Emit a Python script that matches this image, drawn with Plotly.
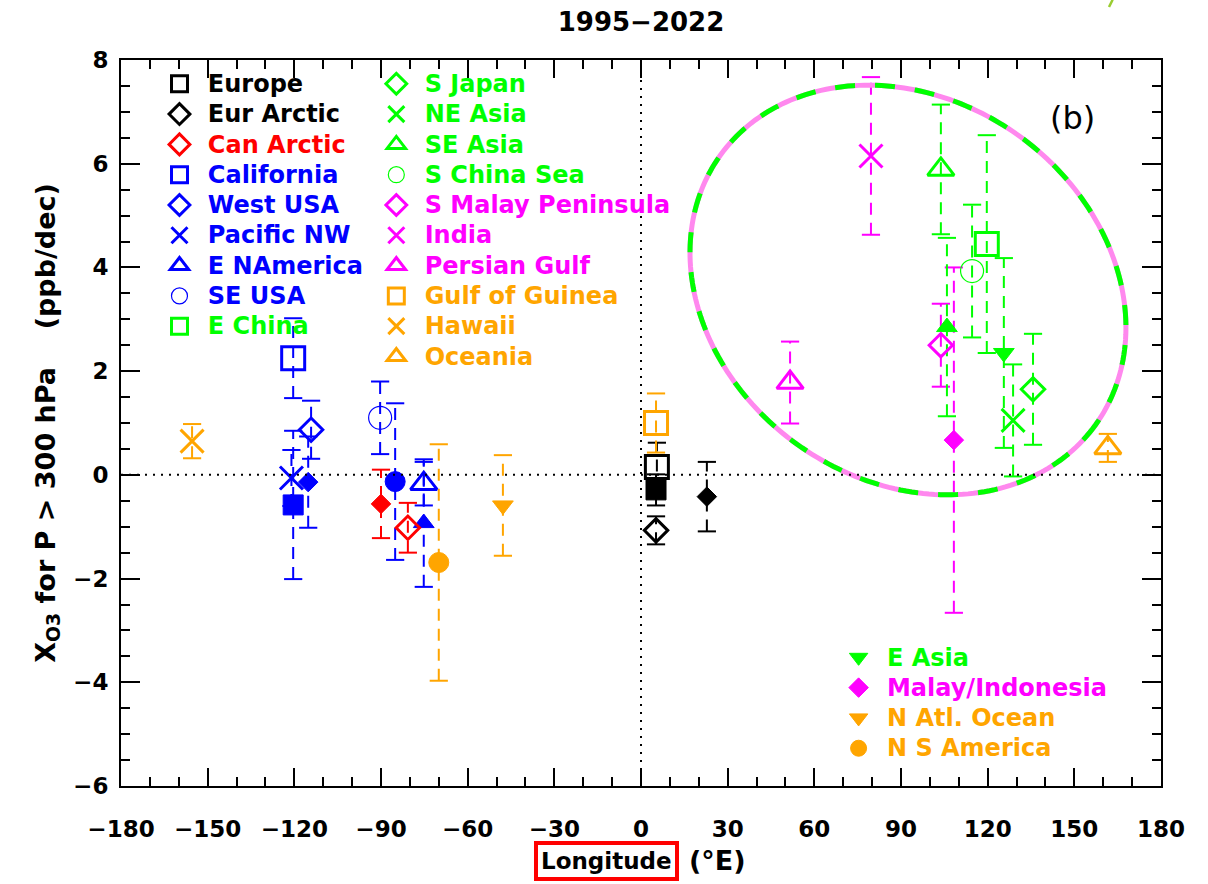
import numpy as np
import plotly.graph_objects as go

# ---------------- data: open-symbol regions (legend column 1) ----------------
col1_names = ["Europe", "Eur Arctic", "Can Arctic", "California", "West USA",
              "Pacific NW", "E NAmerica", "SE USA", "E China"]
col1_colors = ["black", "black", "#FF0000", "#0000FF", "#0000FF",
               "#0000FF", "#0000FF", "#0000FF", "#00FF00"]
col1_symbols = ["square-open", "diamond-open", "diamond-open", "square-open",
                "diamond-open", "x-thin-open", "triangle-up-open", "circle-open",
                "square-open"]
col1_lon = [5.5, 5.2, -80.7, -120.4, -114.2, -121.0, -75.2, -90.3, 119.7]
col1_val = [0.15, -1.07, -1.02, 2.25, 0.87, -0.06, -0.17, 1.10, 4.45]
col1_err = [0.47, 0.27, 0.48, 0.77, 0.56, 0.54, 0.42, 0.70, 2.10]

# ---------------- data: open-symbol regions (legend column 2) ----------------
col2_names = ["S Japan", "NE Asia", "SE Asia", "S China Sea", "S Malay Peninsula",
              "India", "Persian Gulf", "Gulf of Guinea", "Hawaii", "Oceania"]
col2_colors = ["#00FF00", "#00FF00", "#00FF00", "#00FF00", "#FF00FF",
               "#FF00FF", "#FF00FF", "#FFA500", "#FFA500", "#FFA500"]
col2_symbols = ["diamond-open", "x-thin-open", "triangle-up-open", "circle-open",
                "diamond-open", "x-thin-open", "triangle-up-open", "square-open",
                "x-thin-open", "triangle-up-open"]
col2_lon = [135.7, 128.8, 103.8, 114.6, 103.8, 79.6, 51.6, 5.2, -155.4, 161.6]
col2_val = [1.65, 1.05, 5.89, 3.93, 2.50, 6.15, 1.78, 1.00, 0.65, 0.52]
col2_err = [1.07, 1.08, 1.25, 1.28, 0.80, 1.52, 0.79, 0.57, 0.33, 0.27]

# ---------------- data: filled-symbol regions (lower-right legend) ----------------
col3_names = ["E Asia", "Malay/Indonesia", "N Atl. Ocean", "N S America"]
col3_colors = ["#00FF00", "#FF00FF", "#FFA500", "#FFA500"]
col3_symbols = ["triangle-down", "diamond", "triangle-down", "circle"]
col3_lon = [125.6, 108.3, -47.8, -70.0]
col3_val = [2.35, 0.67, -0.59, -1.69]
col3_err = [1.83, 3.33, 0.97, 2.28]

# ---------------- data: filled counterparts (no legend entry) ----------------
fill_colors = ["black", "black", "#FF0000", "#0000FF", "#0000FF",
               "#0000FF", "#0000FF", "#00FF00"]
fill_symbols = ["square", "diamond", "diamond", "square", "diamond",
                "circle", "triangle-up", "triangle-up"]
fill_lon = [5.2, 22.8, -90.0, -120.4, -115.2, -85.1, -75.2, 105.9]
fill_val = [-0.29, -0.42, -0.56, -0.58, -0.14, -0.13, -0.93, 2.85]
fill_err = [0.30, 0.67, 0.66, 1.43, 0.88, 1.51, 1.23, 1.72]

# axis ticks
x_ticks = list(range(-180, 181, 30))
x_ticktext = [("\u2212" + str(abs(v))) if v < 0 else str(v) for v in x_ticks]
y_ticks = list(range(-6, 9, 2))
y_ticktext = [("\u2212" + str(abs(v))) if v < 0 else str(v) for v in y_ticks]

# ---------------- style ----------------
FONT = "DejaVu Sans"
OPEN_SIZE = {"square-open": 23, "diamond-open": 18, "triangle-up-open": 23,
             "x-thin-open": 23, "circle-open": 23}
FILL_SIZE = {"square": 20, "diamond": 15, "triangle-up": 18,
             "triangle-down": 18, "circle": 20}
ERR_DASH = "12px,8px"

W, H = 1208, 884
ML, MR, MT, MB = 121, 47, 60, 98
PW, PH = W - ML - MR, H - MT - MB

fig = go.Figure()


def add_errbar(lon, val, err, color):
    fig.add_trace(go.Scatter(
        x=[lon, lon], y=[val - err, val + err], mode="lines",
        line=dict(color=color, width=2, dash=ERR_DASH),
        showlegend=False, hoverinfo="skip"))
    fig.add_trace(go.Scatter(
        x=[lon, lon], y=[val - err, val + err], mode="markers",
        marker=dict(symbol="line-ew-open", size=13, color=color,
                    line=dict(color=color, width=2)),
        showlegend=False, hoverinfo="skip"))


# error bars underneath all symbols
for lons, vals, errs, cols in [(col1_lon, col1_val, col1_err, col1_colors),
                               (col2_lon, col2_val, col2_err, col2_colors),
                               (col3_lon, col3_val, col3_err, col3_colors),
                               (fill_lon, fill_val, fill_err, fill_colors)]:
    for lo, va, er, c in zip(lons, vals, errs, cols):
        add_errbar(lo, va, er, c)

# filled symbols without legend entries
for lo, va, c, s in zip(fill_lon, fill_val, fill_colors, fill_symbols):
    fig.add_trace(go.Scatter(
        x=[lo], y=[va], mode="markers", showlegend=False,
        marker=dict(symbol=s, size=FILL_SIZE[s], color=c,
                    line=dict(color=c, width=1))))


def legend_label(text, color, size):
    return (f'<span style="color:{color};font-size:{size}px">'
            f'&#160;{text}</span>')


# open-symbol regions
for names, lons, vals, cols, syms, leg in [
        (col1_names, col1_lon, col1_val, col1_colors, col1_symbols, "legend"),
        (col2_names, col2_lon, col2_val, col2_colors, col2_symbols, "legend2")]:
    for n, lo, va, c, s in zip(names, lons, vals, cols, syms):
        lw = 1.2 if s == "circle-open" else 3
        fig.add_trace(go.Scatter(
            x=[lo], y=[va], mode="markers", name=legend_label(n, c, 24),
            legend=leg,
            marker=dict(symbol=s, size=OPEN_SIZE[s], color=c,
                        line=dict(color=c, width=lw))))

# filled-symbol regions with legend entries
for n, lo, va, c, s in zip(col3_names, col3_lon, col3_val, col3_colors,
                           col3_symbols):
    fig.add_trace(go.Scatter(
        x=[lo], y=[va], mode="markers", name=legend_label(n, c, 24),
        legend="legend3",
        marker=dict(symbol=s, size=FILL_SIZE[s], color=c,
                    line=dict(color=c, width=1))))

# ---------------- Asian cluster ellipse (two-colour dashed) ----------------
ell_cx, ell_cy = 0.7567, 0.6832      # centre, plot-area fractions
ell_a, ell_b = 231.0, 190.0          # semi-axes, px
ell_ang = np.deg2rad(35.6)           # clockwise tilt on screen
t = np.linspace(0, 2 * np.pi, 241)
dx = ell_a * np.cos(ell_ang) * np.cos(t) - ell_b * np.sin(ell_ang) * np.sin(t)
dy = ell_a * np.sin(ell_ang) * np.cos(t) + ell_b * np.cos(ell_ang) * np.sin(t)
ex = ell_cx + dx / PW
ey = ell_cy - dy / PH
path = "M " + " L ".join(f"{a:.5f},{b:.5f}" for a, b in zip(ex, ey)) + " Z"

shapes = [
    dict(type="path", path=path, xref="paper", yref="paper",
         line=dict(color="#FF88EE", width=5)),
    dict(type="path", path=path, xref="paper", yref="paper",
         line=dict(color="#00FF00", width=5, dash="20px,20px")),
    # zero reference lines
    dict(type="line", xref="paper", yref="y", x0=0, x1=1, y0=0, y1=0,
         line=dict(color="black", width=2, dash="2px,6px")),
    dict(type="line", xref="x", yref="paper", x0=0, x1=0, y0=0, y1=1,
         line=dict(color="black", width=2, dash="2px,6px")),
    # small green stroke at the top edge
    dict(type="line", xref="paper", yref="paper",
         x0=0.950, y0=1.073, x1=0.9535, y1=1.083,
         line=dict(color="#9ACD32", width=2.5)),
]

annotations = [
    dict(text="(b)", x=0.915, y=0.92, xref="paper", yref="paper",
         xanchor="center", yanchor="middle",
         showarrow=False, font=dict(family=FONT, size=32, color="black")),
    dict(text="Longitude", x=0.467, y=-0.103, xref="paper", yref="paper",
         xanchor="center", yanchor="middle",
         showarrow=False, font=dict(family=FONT, size=23, color="black",
                                    weight="bold"),
         bordercolor="#FF0000", borderwidth=4, borderpad=3),
    dict(text="(\u00b0E)", x=0.574, y=-0.103, xref="paper", yref="paper",
         xanchor="center", yanchor="middle",
         showarrow=False, font=dict(family=FONT, size=27, color="black",
                                    weight="bold")),
]

legend_common = dict(bgcolor="rgba(0,0,0,0)", borderwidth=0,
                     font=dict(family=FONT, size=21, weight="bold"),
                     xanchor="left", yanchor="top", traceorder="normal",
                     itemclick=False, itemdoubleclick=False)

fig.update_layout(
    width=W, height=H,
    margin=dict(l=ML, r=MR, t=MT, b=MB),
    paper_bgcolor="white", plot_bgcolor="white",
    title=dict(text="1995\u22122022", x=0.5, xref="paper", y=1 - 22 / H,
               yref="container", xanchor="center", yanchor="middle",
               font=dict(family=FONT, size=26, color="black", weight="bold")),
    showlegend=True,
    legend=dict(x=0.037, y=0.995, **legend_common),
    legend2=dict(x=0.2455, y=0.995, **legend_common),
    legend3=dict(x=0.690, y=0.205, **legend_common),
    shapes=shapes,
    annotations=annotations,
    xaxis=dict(range=[-180, 180], tickmode="array", tickvals=x_ticks,
               ticktext=x_ticktext, ticks="inside", ticklen=18, tickwidth=2,
               tickcolor="black", showline=True, linecolor="black",
               linewidth=2, mirror="ticks", showgrid=False, zeroline=False,
               ticklabelstandoff=21,
               tickfont=dict(family=FONT, size=23, color="black",
                             weight="bold"),
               minor=dict(dtick=10, tick0=0, ticks="inside", ticklen=9,
                          tickwidth=2, tickcolor="black", showgrid=False)),
    yaxis=dict(range=[-6, 8], tickmode="array", tickvals=y_ticks,
               ticktext=y_ticktext, ticks="inside", ticklen=19, tickwidth=2,
               tickcolor="black", showline=True, linecolor="black",
               linewidth=2, mirror="ticks", showgrid=False, zeroline=False,
               ticklabelstandoff=6,
               tickfont=dict(family=FONT, size=23, color="black",
                             weight="bold"),
               minor=dict(dtick=0.5, tick0=0, ticks="inside", ticklen=9,
                          tickwidth=2, tickcolor="black", showgrid=False),
               title=dict(text="X<sub>O3</sub> for P > 300 hPa    (ppb/dec)",
                          standoff=10,
                          font=dict(family=FONT, size=27, color="black",
                                    weight="bold"))),
)

fig.write_html("out.html")
